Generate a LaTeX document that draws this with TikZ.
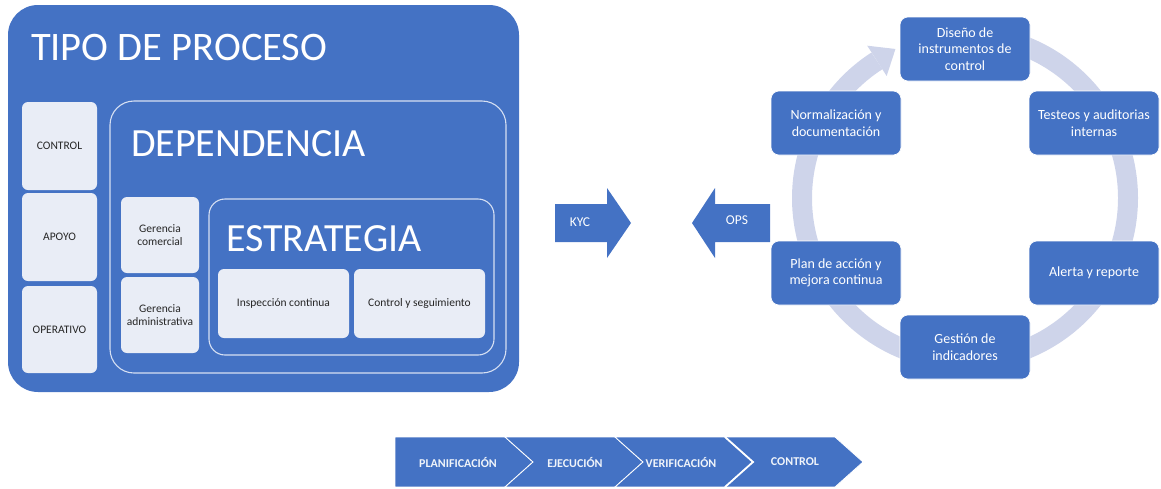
\documentclass[tikz,border=0pt]{standalone}
\usepackage{fontspec}
\setmainfont{Carlito}
\usetikzlibrary{calc}
\begin{document}
\begin{tikzpicture}[x=1pt,y=1pt,
  every node/.style={inner sep=0pt, outer sep=0pt},
  bigframe/.style={rounded corners=30pt, fill=mainblue},
  subframe/.style={rounded corners=#1, draw=frameline, line width=1.1pt},
  lightbox/.style={rounded corners=6pt, fill=lightfill, text=darktext,
    align=center, font=\fontsize{11.5}{13.5}\selectfont},
  title/.style={anchor=base west, text=white},
  cyclebox/.style={rounded corners=8pt, fill=mainblue, draw=white, line width=0.6pt,
    minimum width=130pt, minimum height=64pt, text=white, align=center,
    font=\fontsize{14}{16.5}\selectfont},
  blockarrow/.style={fill=mainblue},
  arrowtext/.style={text=white, font=\fontsize{13.5}{15}\selectfont},
  chevron/.style={fill=mainblue, draw=white, line width=0.8pt, line join=miter},
  chevtext/.style={text=white!92!mainblue, font=\fontsize{12}{14}\selectfont\bfseries},
  ring/.style={draw=ringcol, line width=20pt}
]
\definecolor{mainblue}{RGB}{68,114,196}
\definecolor{lightfill}{RGB}{233,237,246}
\definecolor{darktext}{RGB}{38,38,38}
\definecolor{frameline}{RGB}{214,224,243}
\definecolor{ringcol}{RGB}{206,212,234}

\useasboundingbox (0,0) rectangle (1161,-488);

% ---------- process type block ----------
\node[bigframe, minimum width=511pt, minimum height=387pt] (tipo) at (263.5,-198.5) {};
\node[title, font=\fontsize{40.5}{44}\selectfont] (tipot) at (31,-60) {TIPO DE PROCESO};

\node[lightbox, minimum width=75pt, minimum height=88pt] (ctl) at (59.5,-146) {CONTROL};
\node[lightbox, minimum width=75pt, minimum height=88pt] (apo) at (59.5,-237) {APOYO};
\node[lightbox, minimum width=75pt, minimum height=87pt] (ope) at (59.5,-329.5) {OPERATIVO};

\node[subframe=24pt, minimum width=396pt, minimum height=272pt] (dep) at (308,-237) {};
\node[title, font=\fontsize{40}{44}\selectfont] (dept) at (131,-156) {DEPENDENCIA};

\node[lightbox, minimum width=78pt, minimum height=76pt] (gcom) at (160,-235) {Gerencia\\comercial};
\node[lightbox, minimum width=78pt, minimum height=76pt] (gadm) at (160,-315) {Gerencia\\administrativa};

\node[subframe=16pt, minimum width=285pt, minimum height=156pt] (est) at (351.5,-277) {};
\node[title, font=\fontsize{40}{44}\selectfont] (estt) at (226,-251) {ESTRATEGIA};

\node[lightbox, minimum width=131pt, minimum height=69pt] (insp) at (283.5,-303.5) {Inspección continua};
\node[lightbox, minimum width=131pt, minimum height=69pt] (cseg) at (419.5,-303.5) {Control y seguimiento};

% ---------- block arrows ----------
\fill[blockarrow] (555,-204) -- (607,-204) -- (607,-188) -- (631,-223) -- (607,-258)
  -- (607,-242) -- (555,-242) -- cycle;
\node[arrowtext] (kyc) at (580,-222) {KYC};
\fill[blockarrow] (770,-204) -- (715,-204) -- (715,-188) -- (692,-223) -- (715,-258)
  -- (715,-242) -- (770,-242) -- cycle;
\node[arrowtext] (ops) at (737,-220) {OPS};

% ---------- cycle ring ----------
\coordinate (cc) at (965,-198);
\draw[ring] ($(cc)+(90:163)$) arc[start angle=90, end angle=-237.3, radius=163];
\coordinate (hb) at ($(cc)+(122.7:163)$);
\fill[ringcol] ($(cc)+(122.7:145)$) -- ($(hb)+(32.7:22)$) -- ($(cc)+(122.7:181)$) -- cycle;

% ---------- cycle steps ----------
\node[cyclebox] (dis) at (965,-49) {Diseño de\\instrumentos de\\control};
\node[cyclebox] (tes) at (1094,-123) {Testeos y auditorias\\internas};
\node[cyclebox] (ale) at (1094,-273) {Alerta y reporte};
\node[cyclebox] (ges) at (965,-347) {Gestión de\\indicadores};
\node[cyclebox] (pla) at (836,-273) {Plan de acción y\\mejora continua};
\node[cyclebox] (nor) at (836,-123) {Normalización y\\documentación};

% ---------- phase chevrons ----------
\path[chevron] (395,-437) -- (505,-437) -- (533,-462) -- (505,-487) -- (395,-487) -- cycle;
\path[chevron] (505,-437) -- (615,-437) -- (643,-462) -- (615,-487) -- (505,-487) -- (533,-462) -- cycle;
\path[chevron] (615,-437) -- (725,-437) -- (753,-462) -- (725,-487) -- (615,-487) -- (643,-462) -- cycle;
\path[chevron] (725,-437) -- (835,-437) -- (863,-462) -- (835,-487) -- (725,-487) -- (753,-462) -- cycle;
\draw[white, line width=1.8pt] (725,-437) -- (753,-462) -- (725,-487);
\fill[white] (380,-487) rectangle (880,-490);

\node[chevtext] (pl) at (458,-462) {PLANIFICACIÓN};
\node[chevtext] (ej) at (575,-462) {EJECUCIÓN};
\node[chevtext] (ve) at (681,-462) {VERIFICACIÓN};
\node[chevtext] (co) at (795,-462) {CONTROL};
\end{tikzpicture}
\end{document}
